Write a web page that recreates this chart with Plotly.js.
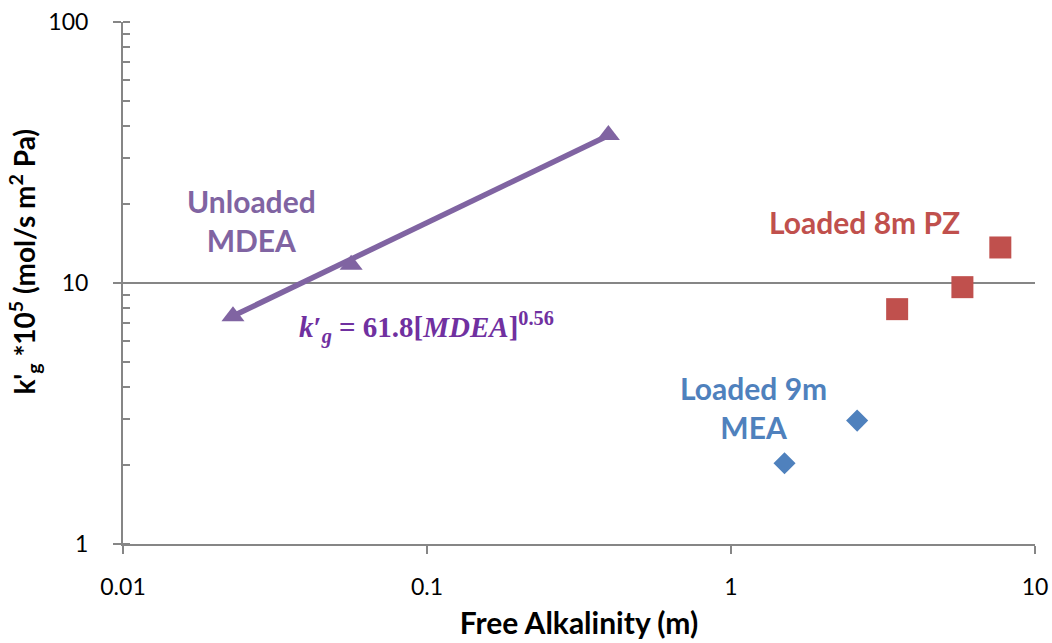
<!DOCTYPE html>
<html>
<head>
<meta charset="utf-8">
<script src="https://cdn.plot.ly/plotly-3.0.1.min.js"></script>
<style>
  html, body { margin: 0; padding: 0; background: #fff; }
  #chart { width: 1052px; height: 643px; }
</style>
</head>
<body>
<div id="chart"></div>
<script>
// Mass-transfer coefficient vs free alkalinity, log-log
const xTickVals = [0.01, 0.1, 1, 10];
const xTickText = ['0.01', '0.1', '1', '10'];
const yTickVals = [1, 10, 100];
const yTickText = ['1', '10', '100'];

// Loaded 9m MEA
const meaX = [1.50, 2.60];
const meaY = [2.04, 2.97];

// Loaded 8m PZ
const pzX = [3.52, 5.77, 7.69];
const pzY = [7.94, 9.64, 13.68];

// Unloaded MDEA
const mdeaX = [0.0230, 0.0563, 0.395];
const mdeaY = [7.46, 11.74, 36.9];

// Power-law fit for MDEA: k'g = 61.8 [MDEA]^0.56
const fitCoef = 61.8;
const fitExp = 0.56;

const purple = '#8064A2';
const red = '#C0504D';
const blue = '#4F81BD';
const eqPurple = '#7030A0';
const axisGrey = '#868686';

const fitX = [Math.min(...mdeaX), Math.max(...mdeaX)];
const fitY = fitX.map(x => fitCoef * Math.pow(x, fitExp));

const traces = [
  {
    x: fitX, y: fitY, type: 'scatter', mode: 'lines',
    line: { color: purple, width: 5.5 }, hoverinfo: 'skip', showlegend: false
  },
  {
    x: meaX, y: meaY, type: 'scatter', mode: 'markers', name: 'Loaded 9m MEA',
    marker: { symbol: 'diamond', size: 17, color: blue }
  },
  {
    x: pzX, y: pzY, type: 'scatter', mode: 'markers', name: 'Loaded 8m PZ',
    marker: { symbol: 'square', size: 22, color: red }
  },
  {
    x: mdeaX, y: mdeaY, type: 'scatter', mode: 'markers', name: 'Unloaded MDEA',
    marker: { symbol: 'triangle-up', size: 20, color: purple }
  }
];

const labelFont = { family: 'Lato, "Open Sans", sans-serif', size: 30 };

function label(x, y, text, color) {
  return {
    xref: 'paper', yref: 'paper', x: x, y: y,
    xanchor: 'center', yanchor: 'middle', align: 'center',
    text: text, showarrow: false,
    font: Object.assign({}, labelFont, { color: color })
  };
}

const layout = {
  width: 1052, height: 643,
  paper_bgcolor: '#ffffff', plot_bgcolor: '#ffffff',
  showlegend: false,
  margin: { l: 123, r: 17, t: 22, b: 99 },
  font: { family: 'Lato, "Open Sans", sans-serif', color: '#000000', size: 23 },
  xaxis: {
    type: 'log', range: [-2, 1],
    tickvals: xTickVals, ticktext: xTickText,
    showgrid: false, zeroline: false,
    showline: true, linecolor: axisGrey, linewidth: 2,
    ticks: 'outside', ticklen: 8, tickwidth: 2, tickcolor: axisGrey,
    ticklabelstandoff: 13,
    tickfont: { size: 23, color: '#000' },
    title: { text: '<b>Free Alkalinity (m)</b>', font: { size: 30, color: '#000' }, standoff: 14 }
  },
  yaxis: {
    type: 'log', range: [0, 2],
    tickvals: yTickVals, ticktext: yTickText,
    showgrid: true, gridcolor: axisGrey, gridwidth: 2,
    zeroline: false,
    showline: true, linecolor: axisGrey, linewidth: 2,
    ticks: 'outside', ticklen: 8, tickwidth: 2, tickcolor: axisGrey,
    ticklabelstandoff: 20,
    tickfont: { size: 23, color: '#000' },
    minor: { dtick: 'D1', ticks: 'inside', ticklen: 7, tickwidth: 2, tickcolor: axisGrey, showgrid: false }
  },
  annotations: [
    // vertical axis title, set slightly above the plot centre
    {
      xref: 'paper', yref: 'paper', x: -0.108, y: 0.54,
      xanchor: 'center', yanchor: 'middle', textangle: -90,
      text: "<b>k'<sub>g</sub> *10<sup>5</sup> (mol/s m<sup>2</sup> Pa)</b>",
      showarrow: false,
      font: { family: 'Lato, "Open Sans", sans-serif', size: 28, color: '#000' }
    },
    label(0.1407, 0.619, '<b>Unloaded<br>MDEA</b>', purple),
    label(0.8132, 0.6178, '<b>Loaded 8m PZ</b>', red),
    label(0.6911, 0.2616, '<b>Loaded 9m<br>MEA</b>', blue),
    {
      xref: 'paper', yref: 'paper', x: 0.333, y: 0.414,
      xanchor: 'center', yanchor: 'middle',
      text: '<b><i>k</i>′<sub><i>g</i></sub> = ' + fitCoef.toFixed(1) + '[<i>MDEA</i>]<sup>' + fitExp.toFixed(2) + '</sup></b>',
      showarrow: false,
      font: { family: '"Liberation Serif", "DejaVu Serif", serif', size: 29, color: eqPurple }
    }
  ]
};

Plotly.newPlot('chart', traces, layout, { displayModeBar: false, staticPlot: true });
</script>
</body>
</html>
